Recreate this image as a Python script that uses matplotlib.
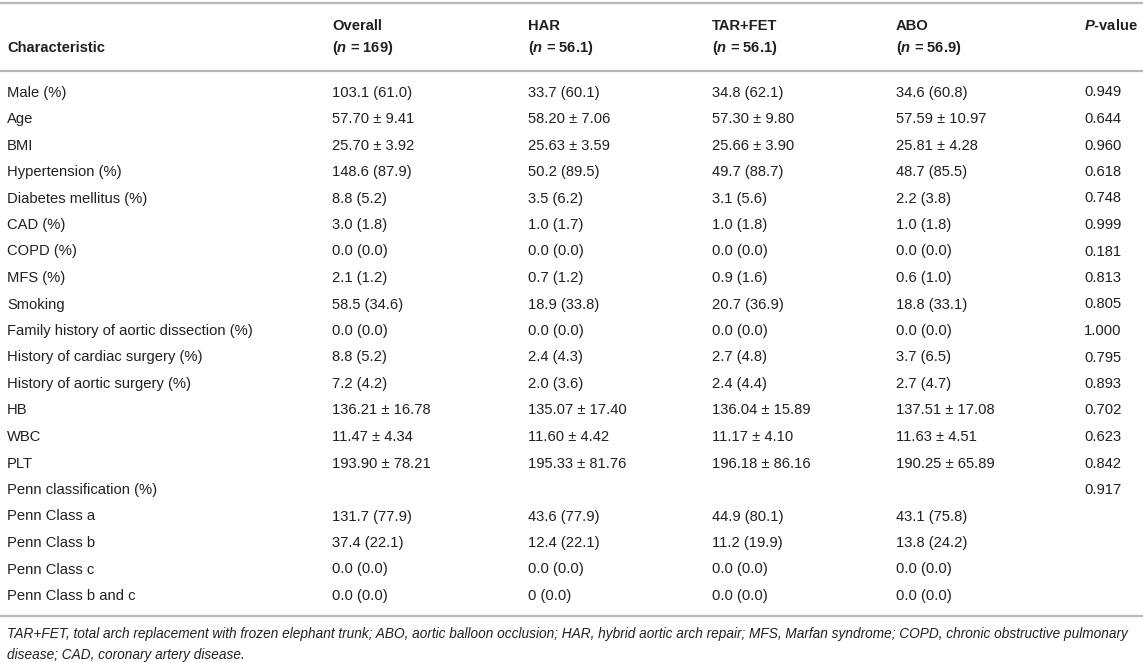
import matplotlib
matplotlib.use("Agg")
import matplotlib.pyplot as plt

plt.rcParams['font.family'] = ['Liberation Sans', 'DejaVu Sans']
plt.rcParams['mathtext.fontset'] = 'custom'
plt.rcParams['mathtext.it'] = 'Liberation Sans:italic:bold'
plt.rcParams['mathtext.rm'] = 'Liberation Sans:bold'

# table data
col_titles = ["Overall", "HAR", "TAR+FET", "ABO"]
col_n = ["169", "56.1", "56.1", "56.9"]

characteristics = [
    "Male (%)", "Age", "BMI", "Hypertension (%)", "Diabetes mellitus (%)",
    "CAD (%)", "COPD (%)", "MFS (%)", "Smoking",
    "Family history of aortic dissection (%)", "History of cardiac surgery (%)",
    "History of aortic surgery (%)", "HB", "WBC", "PLT",
    "Penn classification (%)", "Penn Class a", "Penn Class b", "Penn Class c",
    "Penn Class b and c",
]
overall = [
    "103.1 (61.0)", "57.70 ± 9.41", "25.70 ± 3.92", "148.6 (87.9)", "8.8 (5.2)",
    "3.0 (1.8)", "0.0 (0.0)", "2.1 (1.2)", "58.5 (34.6)", "0.0 (0.0)",
    "8.8 (5.2)", "7.2 (4.2)", "136.21 ± 16.78", "11.47 ± 4.34", "193.90 ± 78.21",
    "", "131.7 (77.9)", "37.4 (22.1)", "0.0 (0.0)", "0.0 (0.0)",
]
har = [
    "33.7 (60.1)", "58.20 ± 7.06", "25.63 ± 3.59", "50.2 (89.5)", "3.5 (6.2)",
    "1.0 (1.7)", "0.0 (0.0)", "0.7 (1.2)", "18.9 (33.8)", "0.0 (0.0)",
    "2.4 (4.3)", "2.0 (3.6)", "135.07 ± 17.40", "11.60 ± 4.42", "195.33 ± 81.76",
    "", "43.6 (77.9)", "12.4 (22.1)", "0.0 (0.0)", "0 (0.0)",
]
tar_fet = [
    "34.8 (62.1)", "57.30 ± 9.80", "25.66 ± 3.90", "49.7 (88.7)", "3.1 (5.6)",
    "1.0 (1.8)", "0.0 (0.0)", "0.9 (1.6)", "20.7 (36.9)", "0.0 (0.0)",
    "2.7 (4.8)", "2.4 (4.4)", "136.04 ± 15.89", "11.17 ± 4.10", "196.18 ± 86.16",
    "", "44.9 (80.1)", "11.2 (19.9)", "0.0 (0.0)", "0.0 (0.0)",
]
abo = [
    "34.6 (60.8)", "57.59 ± 10.97", "25.81 ± 4.28", "48.7 (85.5)", "2.2 (3.8)",
    "1.0 (1.8)", "0.0 (0.0)", "0.6 (1.0)", "18.8 (33.1)", "0.0 (0.0)",
    "3.7 (6.5)", "2.7 (4.7)", "137.51 ± 17.08", "11.63 ± 4.51", "190.25 ± 65.89",
    "", "43.1 (75.8)", "13.8 (24.2)", "0.0 (0.0)", "0.0 (0.0)",
]
p_values = [
    "0.949", "0.644", "0.960", "0.618", "0.748", "0.999", "0.181", "0.813",
    "0.805", "1.000", "0.795", "0.893", "0.702", "0.623", "0.842", "0.917",
    "", "", "", "",
]
footnote = [
    "TAR+FET, total arch replacement with frozen elephant trunk; ABO, aortic balloon occlusion; "
    "HAR, hybrid aortic arch repair; MFS, Marfan syndrome; COPD, chronic obstructive pulmonary",
    "disease; CAD, coronary artery disease.",
]

W, H = 1143, 663
fig = plt.figure(figsize=(W / 100, H / 100), dpi=100)
ax = fig.add_axes([0, 0, 1, 1])
ax.set_xlim(0, W)
ax.set_ylim(H, 0)
ax.axis('off')

txt_color = '#231f20'
line_color = '#b8b8b8'
fs = 10.6

col_x = [7, 332, 528, 712, 896, 1084]
row_y0, row_dy = 92.5, 26.5

# rules
for y in (3, 71, 616):
    ax.plot([0, W], [y, y], color=line_color, lw=1.6, solid_capstyle='butt')

# header
ax.text(col_x[0], 48, "Characteristic", fontsize=fs, fontweight='bold',
        color=txt_color, va='center')
for i, (t, n) in enumerate(zip(col_titles, col_n)):
    ax.text(col_x[i + 1], 26, t, fontsize=fs, fontweight='bold',
            color=txt_color, va='center')
    ax.text(col_x[i + 1], 48, "($\\mathit{n}$ = " + n + ")", fontsize=fs,
            fontweight='bold', color=txt_color, va='center')
ax.text(col_x[5], 26, "$\\mathit{P}$-value", fontsize=fs, fontweight='bold',
        color=txt_color, va='center')

# body
columns = [characteristics, overall, har, tar_fet, abo, p_values]
for r in range(len(characteristics)):
    y = row_y0 + r * row_dy
    for c, col in enumerate(columns):
        if col[r]:
            ax.text(col_x[c], y, col[r], fontsize=fs, color=txt_color,
                    va='center')

# footnote
for k, line in enumerate(footnote):
    ax.text(col_x[0], 634 + k * 21, line, fontsize=9.8, style='italic',
            color=txt_color, va='center')

fig.savefig("out.png", dpi=100)
